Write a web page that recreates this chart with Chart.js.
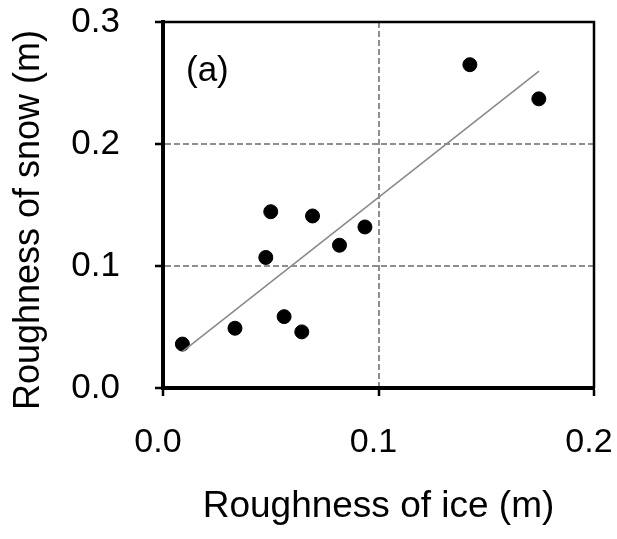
<!DOCTYPE html>
<html lang="en">
<head>
    <meta charset="UTF-8">
    <title>Roughness of snow vs ice</title>
    <script src="https://cdn.jsdelivr.net/npm/chart.js"></script>
    <style>
        body { margin: 0; background: #fff; }
        #wrap { width: 617px; height: 539px; }
    </style>
</head>
<body>
    <div id="wrap"><canvas id="chart" width="617" height="539"></canvas></div>

    <script>
        // values
        const iceRough = [0.009, 0.0334, 0.0477, 0.050, 0.0562, 0.0644, 0.0694, 0.0819, 0.0937, 0.1424, 0.1744];
        const snowRough = [0.036, 0.049, 0.107, 0.1445, 0.0585, 0.046, 0.141, 0.117, 0.132, 0.265, 0.237];
        // regression line end points
        const fitIce = [0.009, 0.1745];
        const fitSnow = [0.0298, 0.2597];

        const xTicks = [0, 0.1, 0.2];
        const yTicks = [0, 0.1, 0.2, 0.3];
        const panelLabel = '(a)';

        const FONT = "'Liberation Sans', Arial, sans-serif";

        const points = iceRough.map((x, i) => ({ x, y: snowRough[i] }));
        const fitLine = fitIce.map((x, i) => ({ x, y: fitSnow[i] }));

        // inner grid lines only (edges are drawn by the frame)
        function gridColor(c) {
            const s = c.scale;
            if (!c.tick) return 'rgba(0,0,0,0)';
            const v = c.tick.value;
            return (v > s.min + 1e-9 && v < s.max - 1e-9) ? '#8e8e8e' : 'rgba(0,0,0,0)';
        }

        // top / right frame and panel label
        const framePlugin = {
            id: 'frame',
            afterDatasetsDraw(chart) {
                const { ctx, chartArea: a } = chart;
                ctx.save();
                ctx.strokeStyle = '#000';
                ctx.lineWidth = 2.5;
                ctx.beginPath();
                ctx.moveTo(a.left, a.top);
                ctx.lineTo(a.right, a.top);
                ctx.lineTo(a.right, a.bottom);
                ctx.stroke();
                ctx.fillStyle = '#000';
                ctx.font = '35px ' + FONT;
                ctx.textAlign = 'left';
                ctx.textBaseline = 'alphabetic';
                ctx.fillText(panelLabel, a.left + 23, a.top + 58.5);
                ctx.restore();
            }
        };

        new Chart(document.getElementById('chart'), {
            type: 'scatter',
            data: {
                datasets: [
                    {
                        type: 'line',
                        data: fitLine,
                        borderColor: '#8a8a8a',
                        borderWidth: 1.6,
                        pointRadius: 0,
                        fill: false
                    },
                    {
                        data: points,
                        backgroundColor: '#000',
                        borderColor: '#000',
                        pointRadius: 7,
                        pointHoverRadius: 7
                    }
                ]
            },
            options: {
                responsive: false,
                animation: false,
                layout: { padding: { left: 0, top: 22, right: 23, bottom: 0 } },
                plugins: { legend: { display: false }, tooltip: { enabled: false } },
                scales: {
                    x: {
                        type: 'linear',
                        min: 0, max: 0.2,
                        afterBuildTicks: s => { s.ticks = xTicks.map(v => ({ value: v })); },
                        afterFit: s => { s.height = 151; s.paddingLeft = 0; s.paddingRight = 0; },
                        ticks: {
                            color: '#000',
                            font: { family: FONT, size: 34 },
                            padding: 26.5,
                            labelOffset: -5,
                            maxRotation: 0,
                            callback: v => v.toFixed(1)
                        },
                        grid: {
                            color: gridColor,
                            lineWidth: 2,
                            tickColor: '#000',
                            tickWidth: 2.5,
                            tickLength: 8,
                            tickBorderDash: []
                        },
                        border: { color: '#000', width: 4, dash: [6, 3] },
                        title: {
                            display: true,
                            text: 'Roughness of ice (m)',
                            color: '#000',
                            font: { family: FONT, size: 37 },
                            padding: { top: 0, bottom: 10 }
                        }
                    },
                    y: {
                        type: 'linear',
                        min: 0, max: 0.3,
                        afterBuildTicks: s => { s.ticks = yTicks.map(v => ({ value: v })); },
                        afterFit: s => { s.width = 163; s.paddingTop = 0; s.paddingBottom = 0; },
                        ticks: {
                            color: '#000',
                            font: { family: FONT, size: 35 },
                            padding: 35,
                            callback: v => v.toFixed(1)
                        },
                        grid: {
                            color: gridColor,
                            lineWidth: 2,
                            tickColor: '#000',
                            tickWidth: 2.5,
                            tickLength: 8,
                            tickBorderDash: []
                        },
                        border: { color: '#000', width: 4, dash: [6, 3] },
                        title: {
                            display: true,
                            // trailing spaces nudge the rotated title down a little
                            text: 'Roughness of snow (m)\u00a0\u00a0\u00a0',
                            color: '#000',
                            font: { family: FONT, size: 36 },
                            padding: { top: 7, bottom: 0 }
                        }
                    }
                }
            },
            plugins: [framePlugin]
        });
    </script>
</body>
</html>
